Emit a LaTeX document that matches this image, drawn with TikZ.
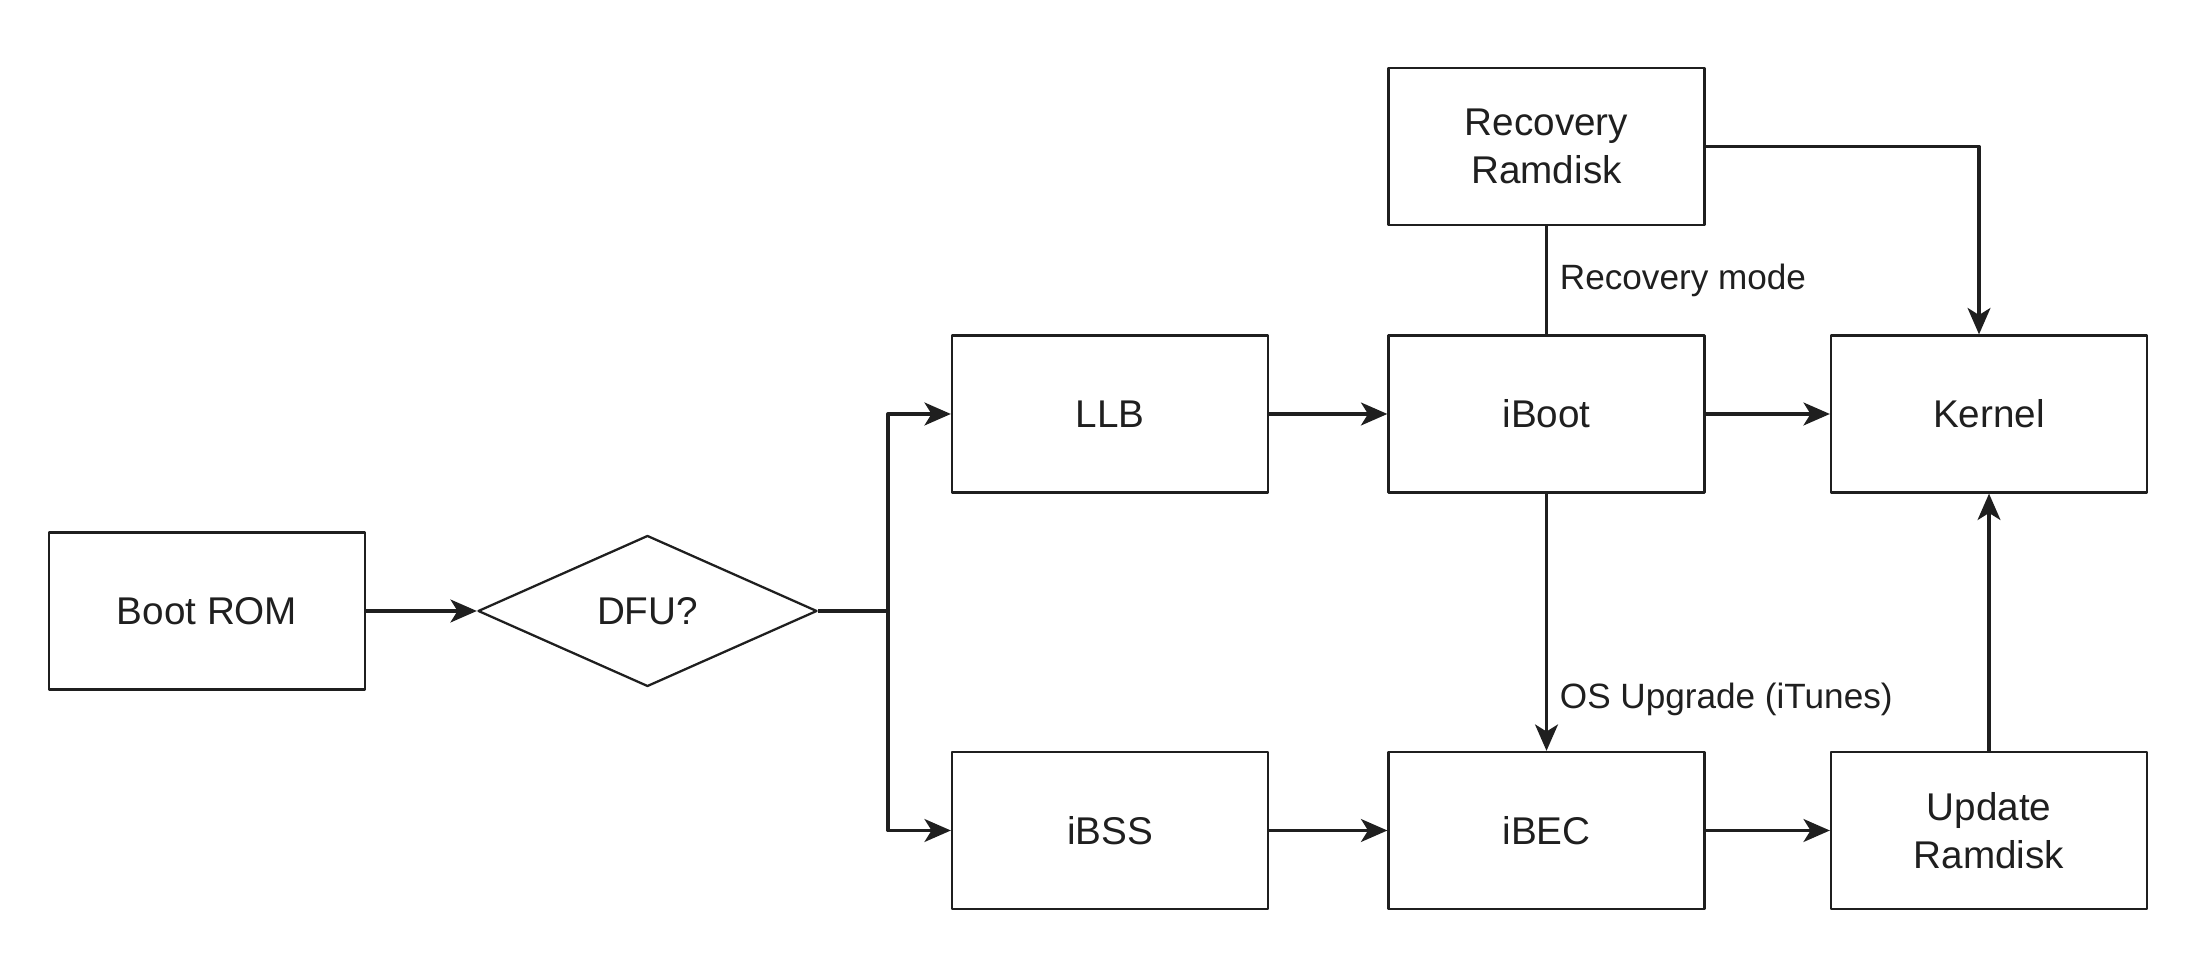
\documentclass[tikz,border=0pt]{standalone}
\usepackage{fontspec}
\setmainfont{Liberation Sans}
\usetikzlibrary{shapes.geometric,arrows.meta}
\definecolor{ink}{gray}{0.12}
\tikzset{
	blk/.style={draw=ink, line width=0.65pt, minimum width=3.16cm, minimum height=1.57cm, align=center, text=ink, font=\fontsize{11}{13.7}\selectfont},
	dec/.style={draw=ink, diamond, line width=0.65pt, minimum width=3.39cm, minimum height=1.51cm, inner sep=0pt, text=ink, font=\fontsize{11}{13.7}\selectfont},
	conn/.style={draw=ink, line width=0.95pt},
	lbl/.style={text=ink, font=\fontsize{10}{12}\selectfont}
}
\begin{document}
\begin{tikzpicture}[line join=round, >={Stealth[length=7.5pt,width=6.5pt,inset=2pt]}]
				\useasboundingbox (0,0) rectangle (21.92,9.65);
				\node[blk] (bootrom) at (2.07,3.54) {Boot ROM};
				\node[dec] (dfu) at (6.475,3.54) {DFU?};
				\coordinate (split) at (8.88,3.54);
				\node[blk] (llb) at (11.10,5.51) {LLB};
				\node[blk] (ibss) at (11.10,1.345) {iBSS};
				\node[blk] (iboot) at (15.465,5.51) {iBoot};
				\node[blk] (ibec) at (15.465,1.345) {iBEC};
				\node[blk] (kernel) at (19.89,5.51) {Kernel};
				\node[blk] (update) at (19.89,1.345) {Update\\Ramdisk};
				\node[blk] (recovery) at (15.465,8.185) {Recovery\\Ramdisk};
				% connectors
				\draw[conn,->] (bootrom) -- (dfu);
				\draw[conn] (dfu.east) -- (split);
				\draw[conn,->] (split) |- (llb.west);
				\draw[conn,->] (split) |- (ibss.west);
				\draw[conn,->] (llb) -- (iboot);
				\draw[conn,->] (iboot) -- (kernel);
				\draw[conn,->] (ibss) -- (ibec);
				\draw[conn,->] (ibec) -- (update);
				\draw[conn,->] (update) -- (kernel);
				\draw[conn,->] (iboot) -- (ibec) node[lbl, pos=0.8, right]{OS Upgrade (iTunes)};
				\draw[conn] (recovery) -- (iboot) node[lbl, midway, right]{Recovery mode};
				\draw[conn,->] (recovery.east) -| ([xshift=-1mm]kernel.north);
			\end{tikzpicture}
\end{document}
